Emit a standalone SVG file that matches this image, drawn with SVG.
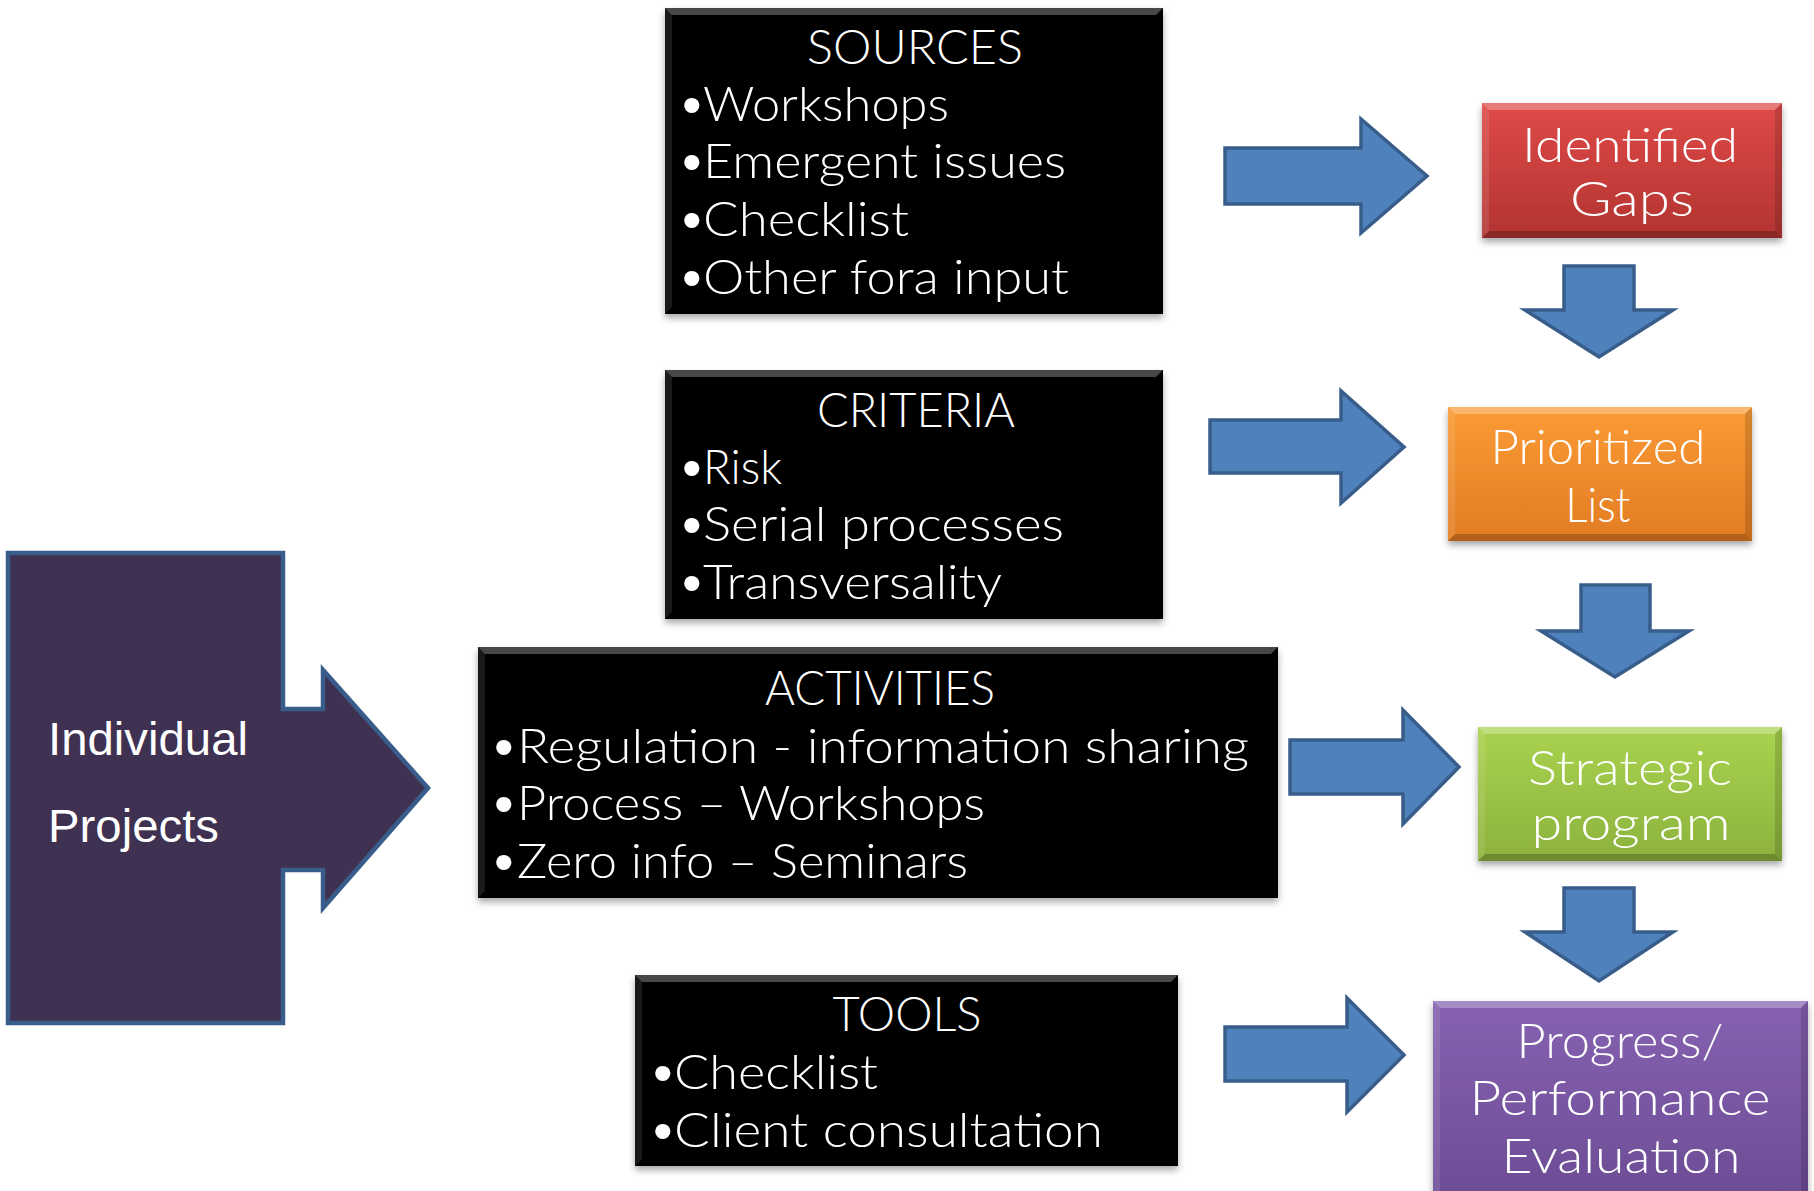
<svg xmlns="http://www.w3.org/2000/svg" width="1814" height="1191" viewBox="0 0 1814 1191">
  <style>
    .gothic { font-family: "Lato", "Open Sans", "DejaVu Sans", sans-serif; font-weight: 300; fill: #ffffff; font-size: 47px; }
    .bul { font-family: "Liberation Sans", Arial, sans-serif; fill: #ffffff; font-size: 56px; }
    .arial { font-family: "Liberation Sans", Arial, sans-serif; fill: #ffffff; font-size: 46px; }
    .mid { text-anchor: middle; }
    .arrow { fill: #4F81BD; stroke: #385D8A; stroke-width: 3.5; stroke-linejoin: miter; }
    .hi { fill: #ffffff; opacity: 0.28; }
    .lo { fill: #000000; opacity: 0.22; }
    .side-hi { fill: #ffffff; opacity: 0.10; }
    .side-lo { fill: #000000; opacity: 0.14; }
    .blackbox { fill: #050505; }
  </style>
  <defs>
    <filter id="shadow" x="-5%" y="-5%" width="110%" height="115%">
      <feDropShadow dx="0" dy="4" stdDeviation="3.5" flood-color="#000000" flood-opacity="0.35"/>
    </filter>
    <linearGradient id="gRed" x1="0" y1="0" x2="0" y2="1">
      <stop offset="0" stop-color="#E04A48"/>
      <stop offset="1" stop-color="#B23431"/>
    </linearGradient>
    <linearGradient id="gOrange" x1="0" y1="0" x2="0" y2="1">
      <stop offset="0" stop-color="#FB9B35"/>
      <stop offset="1" stop-color="#E27C23"/>
    </linearGradient>
    <linearGradient id="gGreen" x1="0" y1="0" x2="0" y2="1">
      <stop offset="0" stop-color="#A9D34F"/>
      <stop offset="1" stop-color="#8CB23D"/>
    </linearGradient>
    <linearGradient id="gPurple" x1="0" y1="0" x2="0" y2="1">
      <stop offset="0" stop-color="#8662B1"/>
      <stop offset="1" stop-color="#6B4B93"/>
    </linearGradient>
  </defs>

  <rect width="1814" height="1191" fill="#ffffff"/>

  <!-- Individual Projects: block arrow pointing into the activities -->
  <g id="individual-projects">
    <path d="M8,553 H283 V709 H323 V670 L428,788 L323,908 V870 H283 V1023 H8 Z" fill="#3F3151" stroke="#385D8A" stroke-width="4.5"/>
    <text class="arial" x="48" y="755" textLength="200" lengthAdjust="spacingAndGlyphs">Individual</text>
    <text class="arial" x="48" y="842" textLength="171" lengthAdjust="spacingAndGlyphs">Projects</text>
  </g>

  <!-- SOURCES -->
  <g id="sources">
    <g filter="url(#shadow)"><rect class="blackbox" x="665" y="8" width="498" height="306"/></g>
    <polygon class="hi" points="665,8 1163,8 1156,15 672,15"/>
    <polygon class="lo" points="665,314 1163,314 1156,307 672,307"/>
    <polygon class="side-hi" points="665,8 672,15 672,307 665,314"/>
    <polygon class="side-lo" points="1163,8 1156,15 1156,307 1163,314"/>
    <text class="gothic mid" x="915" y="64" textLength="216" lengthAdjust="spacingAndGlyphs">SOURCES</text>
    <text class="bul" x="682" y="124">•</text>
    <text class="gothic" x="703" y="121" textLength="246" lengthAdjust="spacingAndGlyphs">Workshops</text>
    <text class="bul" x="682" y="181">•</text>
    <text class="gothic" x="703" y="178" textLength="363" lengthAdjust="spacingAndGlyphs">Emergent issues</text>
    <text class="bul" x="682" y="239">•</text>
    <text class="gothic" x="703" y="236" textLength="206" lengthAdjust="spacingAndGlyphs">Checklist</text>
    <text class="bul" x="682" y="297">•</text>
    <text class="gothic" x="703" y="294" textLength="366" lengthAdjust="spacingAndGlyphs">Other fora input</text>
  </g>

  <!-- CRITERIA -->
  <g id="criteria">
    <g filter="url(#shadow)"><rect class="blackbox" x="665" y="370" width="498" height="249"/></g>
    <polygon class="hi" points="665,370 1163,370 1156,377 672,377"/>
    <polygon class="lo" points="665,619 1163,619 1156,612 672,612"/>
    <polygon class="side-hi" points="665,370 672,377 672,612 665,619"/>
    <polygon class="side-lo" points="1163,370 1156,377 1156,612 1163,619"/>
    <text class="gothic mid" x="916" y="427" textLength="198" lengthAdjust="spacingAndGlyphs">CRITERIA</text>
    <text class="bul" x="682" y="487">•</text>
    <text class="gothic" x="703" y="484" textLength="79" lengthAdjust="spacingAndGlyphs">Risk</text>
    <text class="bul" x="682" y="544">•</text>
    <text class="gothic" x="703" y="541" textLength="361" lengthAdjust="spacingAndGlyphs">Serial processes</text>
    <text class="bul" x="682" y="602">•</text>
    <text class="gothic" x="703" y="599" textLength="299" lengthAdjust="spacingAndGlyphs">Transversality</text>
  </g>

  <!-- ACTIVITIES -->
  <g id="activities">
    <g filter="url(#shadow)"><rect class="blackbox" x="478" y="647" width="800" height="251"/></g>
    <polygon class="hi" points="478,647 1278,647 1271,654 485,654"/>
    <polygon class="lo" points="478,898 1278,898 1271,891 485,891"/>
    <polygon class="side-hi" points="478,647 485,654 485,891 478,898"/>
    <polygon class="side-lo" points="1278,647 1271,654 1271,891 1278,898"/>
    <text class="gothic mid" x="880" y="705" textLength="230" lengthAdjust="spacingAndGlyphs">ACTIVITIES</text>
    <text class="bul" x="494" y="766">•</text>
    <text class="gothic" x="517" y="763" textLength="732" lengthAdjust="spacingAndGlyphs">Regulation - information sharing</text>
    <text class="bul" x="494" y="823">•</text>
    <text class="gothic" x="517" y="820" textLength="468" lengthAdjust="spacingAndGlyphs">Process – Workshops</text>
    <text class="bul" x="494" y="881">•</text>
    <text class="gothic" x="517" y="878" textLength="451" lengthAdjust="spacingAndGlyphs">Zero info – Seminars</text>
  </g>

  <!-- TOOLS -->
  <g id="tools">
    <g filter="url(#shadow)"><rect class="blackbox" x="635" y="975" width="543" height="191"/></g>
    <polygon class="hi" points="635,975 1178,975 1171,982 642,982"/>
    <polygon class="lo" points="635,1166 1178,1166 1171,1159 642,1159"/>
    <polygon class="side-hi" points="635,975 642,982 642,1159 635,1166"/>
    <polygon class="side-lo" points="1178,975 1171,982 1171,1159 1178,1166"/>
    <text class="gothic mid" x="907" y="1031" textLength="149" lengthAdjust="spacingAndGlyphs">TOOLS</text>
    <text class="bul" x="653" y="1092">•</text>
    <text class="gothic" x="674" y="1089" textLength="204" lengthAdjust="spacingAndGlyphs">Checklist</text>
    <text class="bul" x="653" y="1150">•</text>
    <text class="gothic" x="674" y="1147" textLength="429" lengthAdjust="spacingAndGlyphs">Client consultation</text>
  </g>

  <!-- Identified Gaps -->
  <g id="identified-gaps">
    <g filter="url(#shadow)"><rect x="1482" y="103" width="300" height="135" fill="url(#gRed)"/></g>
    <polygon class="hi" points="1482,103 1782,103 1775,110 1489,110"/>
    <polygon class="lo" points="1482,238 1782,238 1775,231 1489,231"/>
    <polygon class="side-hi" points="1482,103 1489,110 1489,231 1482,238"/>
    <polygon class="side-lo" points="1782,103 1775,110 1775,231 1782,238"/>
    <text class="gothic mid" x="1630" y="162" textLength="216" lengthAdjust="spacingAndGlyphs">Identified</text>
    <text class="gothic mid" x="1632" y="216" textLength="124" lengthAdjust="spacingAndGlyphs">Gaps</text>
  </g>

  <!-- Prioritized List -->
  <g id="prioritized-list">
    <g filter="url(#shadow)"><rect x="1448" y="407" width="304" height="134" fill="url(#gOrange)"/></g>
    <polygon class="hi" points="1448,407 1752,407 1745,414 1455,414"/>
    <polygon class="lo" points="1448,541 1752,541 1745,534 1455,534"/>
    <polygon class="side-hi" points="1448,407 1455,414 1455,534 1448,541"/>
    <polygon class="side-lo" points="1752,407 1745,414 1745,534 1752,541"/>
    <text class="gothic mid" x="1598" y="464" textLength="215" lengthAdjust="spacingAndGlyphs">Prioritized</text>
    <text class="gothic mid" x="1598" y="522" textLength="65" lengthAdjust="spacingAndGlyphs">List</text>
  </g>

  <!-- Strategic program -->
  <g id="strategic-program">
    <g filter="url(#shadow)"><rect x="1478" y="727" width="304" height="134" fill="url(#gGreen)"/></g>
    <polygon class="hi" points="1478,727 1782,727 1775,734 1485,734"/>
    <polygon class="lo" points="1478,861 1782,861 1775,854 1485,854"/>
    <polygon class="side-hi" points="1478,727 1485,734 1485,854 1478,861"/>
    <polygon class="side-lo" points="1782,727 1775,734 1775,854 1782,861"/>
    <text class="gothic mid" x="1630" y="785" textLength="204" lengthAdjust="spacingAndGlyphs">Strategic</text>
    <text class="gothic mid" x="1631" y="840" textLength="199" lengthAdjust="spacingAndGlyphs">program</text>
  </g>

  <!-- Progress / Performance Evaluation -->
  <g id="progress-evaluation">
    <g filter="url(#shadow)"><rect x="1433" y="1001" width="375" height="210" fill="url(#gPurple)"/></g>
    <polygon class="hi" points="1433,1001 1808,1001 1801,1008 1440,1008"/>
    <polygon class="side-hi" points="1433,1001 1440,1008 1440,1191 1433,1191"/>
    <polygon class="side-lo" points="1808,1001 1801,1008 1801,1191 1808,1191"/>
    <text class="gothic mid" x="1620" y="1058" textLength="207" lengthAdjust="spacingAndGlyphs">Progress/</text>
    <text class="gothic mid" x="1620" y="1115" textLength="301" lengthAdjust="spacingAndGlyphs">Performance</text>
    <text class="gothic mid" x="1621" y="1173" textLength="239" lengthAdjust="spacingAndGlyphs">Evaluation</text>
  </g>

  <!-- Connectors: block arrows between stages -->
  <g id="connectors">
    <path class="arrow" d="M1225,148 H1361 V119 L1427,176 L1361,233 V204 H1225 Z"/>
    <path class="arrow" d="M1210,420 H1341 V391 L1404,447 L1341,503 V473 H1210 Z"/>
    <path class="arrow" d="M1290,740 H1403 V710 L1459,767 L1403,824 V794 H1290 Z"/>
    <path class="arrow" d="M1225,1027 H1347 V998 L1404,1055 L1347,1112 V1081 H1225 Z"/>
    <path class="arrow" d="M1564,266 H1634 V310 H1673 L1599,357 L1525,310 H1564 Z"/>
    <path class="arrow" d="M1581,585 H1650 V631 H1689 L1615,677 L1541,631 H1581 Z"/>
    <path class="arrow" d="M1564,888 H1634 V932 H1673 L1599,981 L1525,932 H1564 Z"/>
  </g>
</svg>
